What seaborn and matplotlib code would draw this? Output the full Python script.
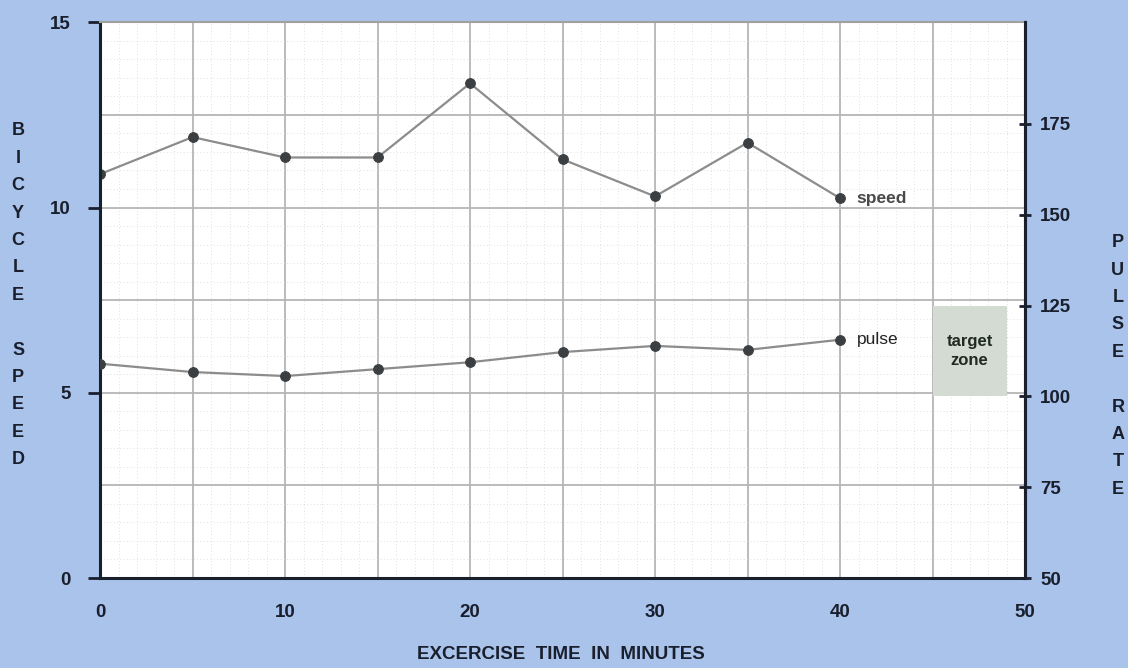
import numpy as np
import pandas as pd
import matplotlib
matplotlib.use("Agg")
import matplotlib.pyplot as plt
import seaborn as sns
from matplotlib.patches import Rectangle

# data
minutes = [0, 5, 10, 15, 20, 25, 30, 35, 40]
speed = [10.9, 11.9, 11.35, 11.35, 13.35, 11.3, 10.3, 11.75, 10.25]
pulse = [109, 106.7, 105.6, 107.5, 109.4, 112.2, 113.9, 112.8, 115.6]
target_zone = (45, 49, 100, 125)  # x0, x1, pulse low, pulse high

bg = "#a9c3ea"
ink = "#1a1f2e"
line_c = "#8c8c8c"
dot_c = "#3c3f42"

sns.set_style("white")
plt.rcParams["font.family"] = ["Liberation Sans", "DejaVu Sans"]

fig = plt.figure(figsize=(11.28, 6.68), dpi=100, facecolor=bg)
ax = fig.add_axes([0.0887, 0.1347, 0.82, 0.832])
ax.set_facecolor("white")
ax2 = ax.twinx()

df = pd.DataFrame({"minutes": minutes, "speed": speed, "pulse": pulse})

sns.lineplot(data=df, x="minutes", y="speed", ax=ax, color=line_c, lw=1.6,
             marker="o", markersize=7, markerfacecolor=dot_c, markeredgecolor=dot_c)
sns.lineplot(data=df, x="minutes", y="pulse", ax=ax2, color=line_c, lw=1.6,
             marker="o", markersize=7, markerfacecolor=dot_c, markeredgecolor=dot_c)

ax.set_xlim(0, 50)
ax.set_ylim(0, 15)
ax2.set_ylim(50, 203)

# grid: major every 5 min / 2.5 speed, faint minor dots
ax.set_xticks(np.arange(0, 51, 5))
ax.set_xticklabels(["0", "", "10", "", "20", "", "30", "", "40", "", "50"])
ax.set_yticks([0, 2.5, 5, 7.5, 10, 12.5, 15])
ax.set_yticklabels(["0", "", "5", "", "10", "", "15"])
ax.set_xticks(np.arange(0, 51, 1), minor=True)
ax.set_yticks(np.arange(0, 15.1, 0.5), minor=True)
ax.grid(True, which="major", color="#b5b5b5", lw=1.3)
ax.grid(True, which="minor", color="#d6d6d6", lw=0.6, ls=(0, (1, 3)))
ax.set_axisbelow(True)

ax.tick_params(which="minor", length=0)
ax.tick_params(axis="x", which="major", length=5, width=1.5, color=ink, pad=14)
ax.tick_params(axis="y", which="major", length=9, width=2, color=ink, direction="out", pad=12)
for i, t in enumerate(ax.yaxis.get_major_ticks()):
    if i % 2:
        t.tick1line.set_visible(False)
for i, t in enumerate(ax.xaxis.get_major_ticks()):
    if i % 2 or i == 10:
        t.tick1line.set_visible(False)
for lab in ax.get_xticklabels() + ax.get_yticklabels():
    lab.set_fontweight("bold")
    lab.set_fontsize(13.5)
    lab.set_color(ink)

ax2.set_yticks([50, 75, 100, 125, 150, 175])
ax2.tick_params(axis="y", length=8, width=2, color=ink, direction="inout", pad=7)
for lab in ax2.get_yticklabels():
    lab.set_fontweight("bold")
    lab.set_fontsize(13.5)
    lab.set_color(ink)

for s in ["left", "bottom", "right"]:
    ax.spines[s].set_color(ink)
    ax.spines[s].set_linewidth(2.2)
ax.spines["top"].set_color("#a0a0a0")
ax.spines["top"].set_linewidth(1.5)
for s in ax2.spines.values():
    s.set_visible(False)
ax2.spines["right"].set_visible(True)
ax2.spines["right"].set_color(ink)
ax2.spines["right"].set_linewidth(2.2)

ax.set_xlabel("")
ax.set_ylabel("")
ax2.set_ylabel("")

# target zone
x0, x1, lo, hi = target_zone
ax2.add_patch(Rectangle((x0, lo), x1 - x0, hi - lo, facecolor="#d3dbd3",
                        edgecolor="none", zorder=0))
ax2.text((x0 + x1) / 2, (lo + hi) / 2, "target\nzone", ha="center", va="center",
         fontsize=12, fontweight="bold", color="#1f2a22", linespacing=1.35)

ax.text(minutes[-1] + 0.9, speed[-1], "speed", va="center", ha="left",
        fontsize=12.5, fontweight="bold", color="#4a4a4a")
ax2.text(minutes[-1] + 0.9, pulse[-1], "pulse", va="center", ha="left",
         fontsize=12.5, color="#222222")

# stacked letter axis titles
fig.text(0.016, 0.558, "\n".join("BICYCLE") + "\n\n" + "\n".join("SPEED"),
         ha="center", va="center", fontsize=13, fontweight="bold", color=ink,
         linespacing=1.8)
fig.text(0.991, 0.452, "\n".join("PULSE") + "\n\n" + "\n".join("RATE"),
         ha="center", va="center", fontsize=13, fontweight="bold", color=ink,
         linespacing=1.8)
fig.text(0.497, 0.02, "EXCERCISE  TIME  IN  MINUTES", ha="center", va="center",
         fontsize=13.5, fontweight="bold", color=ink)

fig.savefig("out.png", dpi=100, facecolor=bg)
